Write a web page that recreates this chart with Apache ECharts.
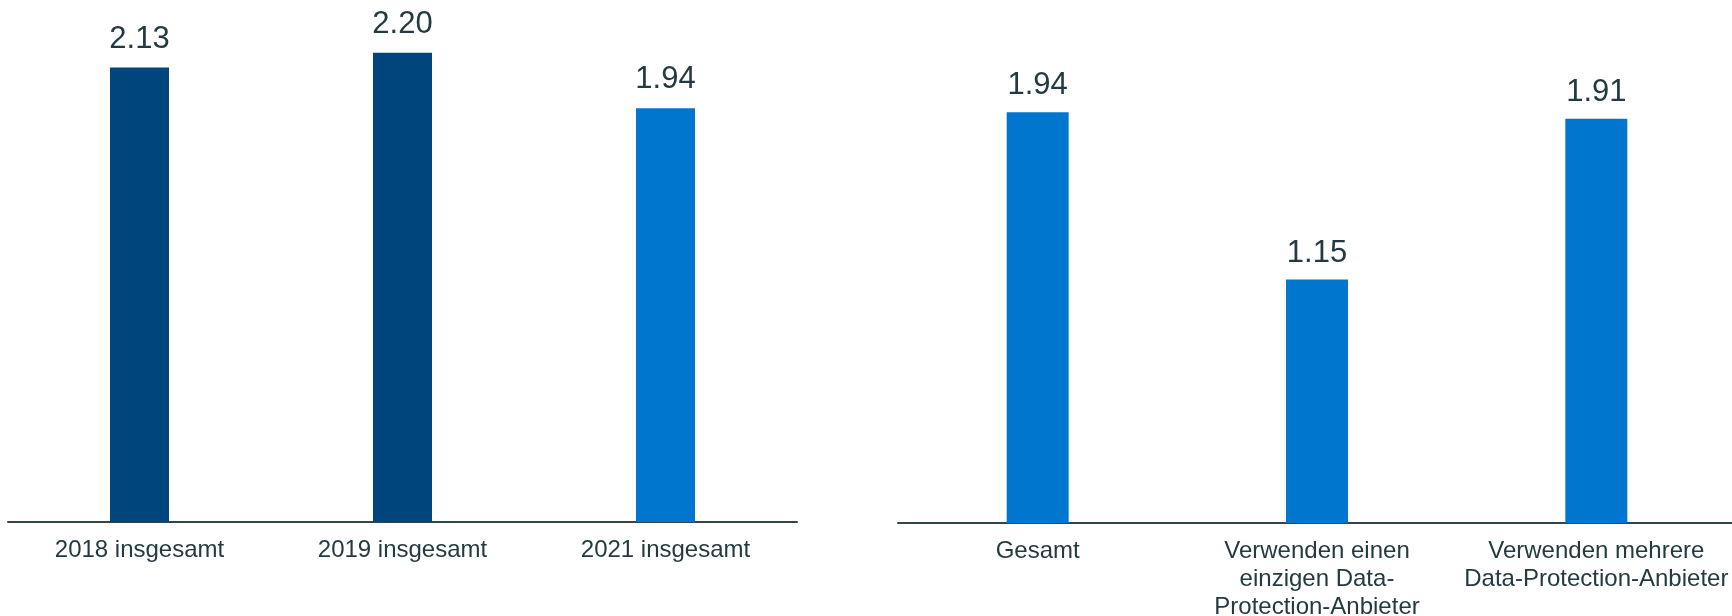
<!DOCTYPE html>
<html>
<head>
<meta charset="utf-8">
<script src="https://cdn.jsdelivr.net/npm/echarts@6/dist/echarts.min.js"></script>
<style>
html, body { margin: 0; padding: 0; background: #ffffff; }
#chart { width: 1732px; height: 616px; }
</style>
</head>
<body>
<div id="chart"></div>
<script>
const leftCategories = ['2018 insgesamt', '2019 insgesamt', '2021 insgesamt'];
const leftValues = [2.13, 2.20, 1.94];
const rightCategories = ['Gesamt', 'Verwenden einen\neinzigen Data-\nProtection-Anbieter', 'Verwenden mehrere\nData-Protection-Anbieter'];
const rightValues = [1.94, 1.15, 1.91];

const DARK = '#00467c';
const LIGHT = '#0076cf';
const TEXT = '#233b40';
const AXIS = '#34454b';
const FONT = '"Liberation Sans", Arial, sans-serif';

const chart = echarts.init(document.getElementById('chart'), null, { renderer: 'canvas' });

function catAxis(idx, cats, margin) {
  return {
    type: 'category',
    gridIndex: idx,
    data: cats,
    axisTick: { show: false },
    axisLine: { show: true, lineStyle: { color: AXIS, width: 2 } },
    axisLabel: {
      interval: 0,
      margin: margin,
      color: TEXT,
      fontFamily: FONT,
      fontSize: 24,
      lineHeight: 28,
      hideOverlap: false
    }
  };
}

function valAxis(idx) {
  return {
    type: 'value', gridIndex: idx, min: 0, max: 2.4, show: false,
    splitLine: { show: false }
  };
}

function labelCfg(dist) {
  return {
    show: true,
    position: 'top',
    distance: dist,
    color: TEXT,
    fontFamily: FONT,
    fontSize: 31,
    formatter: function (p) { return p.value.toFixed(2); }
  };
}

chart.setOption({
  animation: false,
  backgroundColor: '#ffffff',
  grid: [
    { left: 8, top: 10, width: 789, height: 512, outerBoundsMode: 'none', containLabel: false },
    { left: 898, top: 15, width: 838, height: 508, outerBoundsMode: 'none', containLabel: false }
  ],
  xAxis: [catAxis(0, leftCategories, 14), catAxis(1, rightCategories, 14)],
  yAxis: [valAxis(0), valAxis(1)],
  series: [
    {
      type: 'bar', xAxisIndex: 0, yAxisIndex: 0, data: leftValues, barWidth: 59,
      itemStyle: { color: function (p) { return p.dataIndex < 2 ? DARK : LIGHT; } },
      label: labelCfg(13)
    },
    {
      type: 'bar', xAxisIndex: 1, yAxisIndex: 1, data: rightValues, barWidth: 62,
      itemStyle: { color: LIGHT },
      label: labelCfg(11)
    }
  ]
});
</script>
</body>
</html>
